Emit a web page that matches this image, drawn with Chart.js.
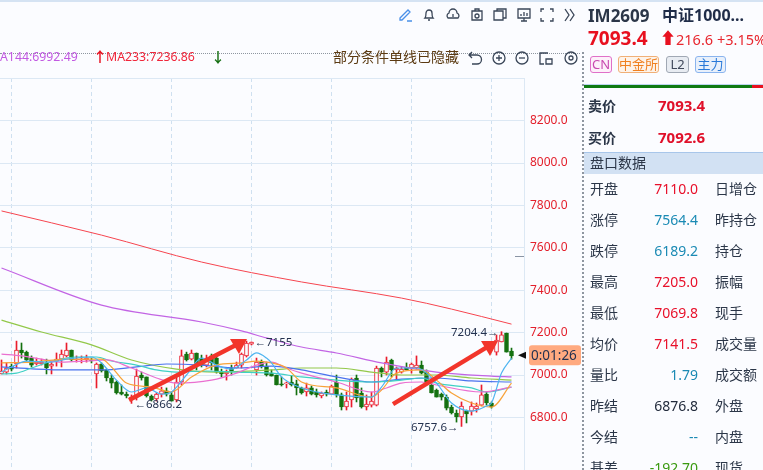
<!DOCTYPE html>
<html><head><meta charset="utf-8">
<script src="https://cdn.jsdelivr.net/npm/chart.js@4"></script>
<style>
html,body{margin:0;padding:0;background:#fbfcff;overflow:hidden}
#w{position:relative;width:763px;height:470px;overflow:hidden;font-family:"Noto Sans","Noto Sans CJK SC",sans-serif;background:#fbfcff}
#w canvas{position:absolute;left:0;top:0}
.t{position:absolute;white-space:nowrap;line-height:1}
.b{position:absolute;top:56px;height:17px;line-height:15px;box-sizing:border-box;border:1px solid;border-radius:3px;text-align:center;font-size:13px}
svg.i{position:absolute;fill:none;stroke:#3a4658;stroke-width:1.3}
</style></head><body><div id="w"><canvas id="c" width="763" height="470"></canvas></div>
<script>
const opens=[7005,7014,7042,7052,7118,7108,7080,7052,7052,7057,7042,7066,7075,7090,7118,7071,7071,7071,7071,7005,7052,7024,6986,6967,6920,6910,6887,6896,7000,6991,6901,6887,6910,6925,6906,6882,6967,7099,7075,7104,7080,7047,7090,7080,7014,7005,7033,7033,7047,7090,7146,7024,7061,7042,7009,7000,6958,6958,6967,6958,6939,6920,6939,6920,6901,6920,6910,6967,6906,6849,6882,6986,6915,6849,6858,6858,7033,7014,7071,7024,7014,7038,7033,7033,7047,7014,6953,6929,6910,6896,6849,6821,6802,6830,6830,6840,6858,6910,6868,7108,7156,7198,7113];
const highs=[7071,7057,7052,7160,7151,7113,7090,7080,7075,7075,7061,7104,7118,7151,7118,7090,7090,7094,7080,7057,7057,7028,7000,6972,6953,6920,6906,7028,7014,6991,6906,6915,6943,6939,6920,6991,7118,7108,7118,7104,7094,7094,7099,7090,7028,7024,7047,7061,7104,7160,7156,7080,7071,7061,7024,7000,6991,6967,6995,6976,6943,6962,6948,6934,6920,6929,6953,7000,6915,6920,6986,7000,6939,6906,6920,7042,7038,7085,7075,7038,7038,7057,7057,7090,7066,7024,6962,6934,6915,6906,6858,6835,6873,6835,6873,6868,6953,6920,6873,7189,7204.4,7198,7127];
const lows=[7005,7005,7019,7033,7080,7066,7038,7047,7047,7005,7005,7042,7038,7085,7066,7061,7057,7061,7057,6939,7014,6972,6939,6910,6906,6892,6866.2,6882,6976,6896,6877,6877,6896,6901,6877,6873,6953,7066,7071,7024,7038,7038,7024,7009,6991,6976,7000,7033,7033,7085,7142,7000,7033,6995,6995,6953,6948,6939,6948,6906,6910,6901,6906,6896,6892,6901,6910,6896,6835,6835,6849,6873,6844,6835,6849,6854,6991,7000,6991,6981,7009,7024,7009,7028,7005,6953,6915,6896,6882,6835,6816,6778,6757.6,6774,6811,6825,6854,6858,6844,7094,7156,7108,7075];
const closes=[7019,7033,7028,7118,7104,7071,7047,7061,7061,7033,7052,7075,7099,7118,7071,7075,7075,7080,7066,7052,7019,6986,6962,6915,6910,6901,6896,6995,6986,6901,6882,6910,6925,6910,6877,6967,7090,7071,7104,7047,7047,7080,7057,7014,7005,7014,7019,7047,7099,7151,7155,7061,7042,7000,6995,6953,6953,6962,6953,6939,6915,6939,6910,6906,6915,6910,6948,6906,6849,6877,6981,6892,6849,6863,6877,7033,7014,7061,7024,7033,7028,7024,7052,7047,7009,6962,6915,6896,6896,6844,6821,6802,6854,6816,6854,6854,6906,6868,6849,7165,7189,7108,7090];

const maSky=[[0,7014],[2,7038],[5,7066],[10,7061],[13,7075],[18,7085],[20,7057],[23,6976],[26,6920],[29,6939],[32,6910],[34,6920],[37,7000],[40,7080],[43,7047],[46,7028],[49,7071],[51,7104],[53,7080],[54,7057],[56,6991],[60,6939],[67,6906],[74,6896],[76,6943],[79,7033],[83,7033],[87,6962],[90,6868],[94,6830],[97,6854],[98,6868],[100,7009],[102,7080]];
const maOrange=[[0,7057],[6,7061],[13,7075],[20,7075],[22,7038],[25,6962],[30,6943],[34,6920],[38,6991],[43,7047],[48,7057],[51,7066],[54,7057],[57,7033],[60,6967],[67,6939],[74,6896],[76,6929],[79,7009],[84,7024],[87,6976],[90,6915],[94,6868],[98,6849],[102,6962]];
const maPink=[[0,7099],[4,7090],[8,7075],[12,7061],[17,7066],[21,7071],[26,7033],[31,6986],[35,6962],[42,6976],[47,7009],[51,7047],[54,7061],[57,7033],[60,7009],[67,6967],[74,6920],[77,6939],[80,6962],[84,6967],[87,6953],[96,6920],[102,6943]];
const maTeal=[[0,7005],[3,7009],[6,7033],[11,7071],[15,7085],[19,7085],[22,7066],[27,7047],[31,7024],[35,7014],[41,7019],[47,7014],[54,7009],[60,6991],[67,6976],[74,6967],[80,6976],[84,6986],[87,6962],[94,6939],[97,6920],[102,6943]];
const maBlue=[[0,7038],[7,7028],[13,7024],[20,7024],[27,7038],[33,7052],[40,7047],[47,7033],[54,7042],[60,7024],[67,6991],[74,6967],[80,6981],[87,6986],[94,6972],[102,6967]];
const maGreen=[[0,7259],[8,7203],[18,7142],[26,7071],[35,7028],[43,7014],[54,7024],[60,7033],[67,7033],[74,7014],[80,7000],[87,7000],[94,6986],[102,6976]];
const ma144=[[0,7505],[20,7330],[40,7250],[48,7208],[53,7175],[60,7132],[67,7104],[76,7057],[87,7014],[98,6995],[102,6991]];
const ma233=[[0,7774],[20,7660],[40,7533],[60,7439],[80,7363],[90,7311],[102,7240]];
const yTicks=[6800,7000,7200,7400,7600,7800,8000,8200,8400];
const gridIdx=[2,18,34,50,66,82,98];
const arrows=[[25.5,6882,49.1,7170],[78.3,6863,99.3,7160]];
const peakLabels=[{i:26,v:6866.2,t:'←6866.2',a:'left'},{i:50,v:7155,t:'←7155',a:'left'},{i:100,v:7204.4,t:'7204.4→',a:'right'},{i:92,v:6757.6,t:'6757.6→',a:'right'}];
const lastPrice=7093.4, countdown='0:01:26';

const RED='#ea1c2c',GRN='#13700f';
const pts=a=>a.map(p=>({x:p[0],y:p[1]}));
const idx=opens.map((_,i)=>i);
const up=idx.map(i=>closes[i]>=opens[i]);
const line=(d,c,w)=>({type:'line',data:pts(d),borderColor:c,borderWidth:w||1.2,pointRadius:0,cubicInterpolationMode:'monotone',order:0});
const plug={id:'ann',afterDatasetsDraw(ch){
 const g=ch.ctx,x=ch.scales.x,y=ch.scales.y;
 g.save();
 arrows.forEach(a=>{
  const x0=x.getPixelForValue(a[0]),y0=y.getPixelForValue(a[1]),x1=x.getPixelForValue(a[2]),y1=y.getPixelForValue(a[3]);
  g.strokeStyle=g.fillStyle='#f2352b';g.lineWidth=4.5;
  g.beginPath();g.moveTo(x0,y0);g.lineTo(x1-11,y1+6);g.stroke();
  g.beginPath();g.moveTo(x1,y1);g.lineTo(x1-17,y1);g.lineTo(x1-8,y1+15);g.closePath();g.fill();
 });
 g.fillStyle='#25324f';g.font='11.5px "Noto Sans",sans-serif';g.textBaseline='middle';
 peakLabels.forEach(l=>{g.textAlign=l.a;const px=x.getPixelForValue(l.i);
  g.fillText(l.t,px+(l.a==='left'?3:-3),y.getPixelForValue(l.v)+1);});
 const py=y.getPixelForValue(lastPrice);
 g.fillStyle='#ffaa80';g.beginPath();g.roundRect(529,py-10,52,20,3);g.fill();
 g.fillStyle='#25324f';g.textAlign='left';g.font='13.5px "Noto Sans",sans-serif';g.fillText(countdown,531,py+.5);
 g.fillStyle='#111';g.beginPath();g.moveTo(518,py);g.lineTo(526,py-3.5);g.lineTo(526,py+3.5);g.closePath();g.fill();
 g.strokeStyle='#8a94a4';g.lineWidth=1;g.beginPath();g.moveTo(515,256.5);g.lineTo(524,256.5);g.stroke();
 g.restore();
}};
new Chart(document.getElementById('c'),{
 data:{datasets:[
  line(maSky,'#4db4f0'),line(maOrange,'#f7a33a'),line(maPink,'#ea6fd0'),line(maTeal,'#3fd0c4'),
  line(maBlue,'#4a72ee'),line(maGreen,'#93c84a'),line(ma144,'#c264e4'),line(ma233,'#f6454f',1),
  {type:'bar',grouped:false,barThickness:4,order:1,borderSkipped:false,borderWidth:1,minBarLength:1,
   data:idx.map(i=>({x:i,y:[opens[i],closes[i]]})),
   backgroundColor:idx.map(i=>up[i]?'#fbfcff':GRN),borderColor:idx.map(i=>up[i]?RED:GRN)},
  {type:'bar',grouped:false,barThickness:1,order:2,borderWidth:0,
   data:idx.map(i=>({x:i,y:[lows[i],highs[i]]})),
   backgroundColor:idx.map(i=>up[i]?RED:GRN)}
 ]},
 options:{responsive:false,animation:false,devicePixelRatio:1,
  layout:{autoPadding:false,padding:{top:78,left:0,right:0,bottom:0}},
  plugins:{legend:{display:false},tooltip:{enabled:false}},
  scales:{
   x:{type:'linear',min:-0.3,max:104.5,offset:false,
      grid:{offset:false,color:'#cfe0f0',drawTicks:false},
      border:{display:false,dash:[4,3]},ticks:{display:false},
      afterFit:s=>{s.height=0;},
      afterBuildTicks:s=>{s.ticks=gridIdx.map(v=>({value:v}));}},
   y:{type:'linear',position:'right',min:6552,max:8401,
      grid:{color:'#dce8f4',drawTicks:false},
      border:{color:'#dce8f4'},
      afterBuildTicks:s=>{s.ticks=yTicks.map(v=>({value:v}));},
      afterFit:s=>{s.width=239;s.paddingTop=0;s.paddingBottom=0;},
      ticks:{color:'#e3202c',padding:6,font:{size:12,family:'"Noto Sans",sans-serif'},
        callback:v=>v===8400?'':v.toFixed(1)}}
  }},
 plugins:[plug]
});

const w=document.getElementById('w');
function T(s,x,y,size,color,extra){const d=document.createElement('div');d.className='t';d.textContent=s;
 d.style.cssText=`left:${x}px;top:${y}px;font-size:${size}px;color:${color};`+(extra||'');w.appendChild(d);return d;}
function R(x,y,wd,h,bg,extra){const d=document.createElement('div');d.style.cssText=`position:absolute;left:${x}px;top:${y}px;width:${wd}px;height:${h}px;background:${bg};`+(extra||'');w.appendChild(d);}
function S(x,y,body,st){const d=document.createElementNS('http://www.w3.org/2000/svg','svg');d.setAttribute('class','i');d.setAttribute('width',18);d.setAttribute('height',18);d.setAttribute('viewBox','0 0 18 18');d.style.left=x+'px';d.style.top=y+'px';if(st)d.style.stroke=st;d.innerHTML=body;w.appendChild(d);}

R(0,0,763,2,'#d5e3f3');
R(0,53,580,0,'transparent','border-top:1px dotted #8e96a0');
R(582,52,0,418,'transparent','border-left:2px dotted #8e96a0');

/* toolbar */
const topRow=[['<path d="M4 12 12 4l2 2-8 8H4zM11 15h5"/>',396,'#4a90e8'],['<path d="M5 12c1-1 1-3 1-5a3 3 0 0 1 6 0c0 2 0 4 1 5zM8 14h2"/>',420],['<path d="M4 12a3 3 0 0 1 1-5 4 4 0 0 1 8 0 3 3 0 0 1 1 5zM9 8v3"/>',444],['<path d="M4 5h10v9H4zM7 5V3h4v2"/><circle cx="9" cy="10" r="2"/>',468],['<path d="M3 5h9v9H3zM6 5V3h9v9h-3"/>',491],['<path d="M3 3h12v9H3zM6 15h6M9 12v3M6 10V8M9 10V6M12 10V7"/>',515],['<path d="M3 6V3h3M12 3h3v3M3 12v3h3M15 12v3h-3"/>',538],['<path d="M4 3l4 6-4 6M9 3l4 6-4 6"/>',561]];
topRow.forEach(r=>S(r[1],6,r[0],r[2]));
const row2=[['<path d="M6 3 3 6l3 3M3 6h8a3 3 0 0 1 0 9H6"/>',466],['<circle cx="9" cy="9" r="6"/><path d="M6 9h6M9 6v6"/>',490],['<circle cx="9" cy="9" r="6"/><path d="M6 9h6"/>',513],['<path d="M11 4H3v11h4M9 10h6v5H9z"/>',537],['<circle cx="9" cy="9" r="6"/><circle cx="9" cy="9" r="2"/>',562]];
row2.forEach(r=>S(r[1],49,r[0]));

T('A144:6992.49',0,51,12.3,'#c25ae2');
T('↑',93,50,14,'#e8101f','font-weight:700');
T('MA233:7236.86',106,51,12.3,'#f0263a');
T('↓',211,50,14,'#176f13','font-weight:700');
T('部分条件单线已隐藏',333,50,14,'#5b3a12');

/* side panel */
const pTitle=['IM2609','中证1000...'];
T(pTitle[0],588,7,17,'#2b3648','font-weight:700');
T(pTitle[1],662,7,16,'#1f2c48','font-weight:700');
T('7093.4',588,29,19,'#e8101f','font-weight:700');
T('⬆',660,30,16,'#e8101f');
T('216.6',676,32,14.5,'#e8272f');
T('+3.15%',717,32,14.5,'#e8272f');
[['CN',590,22,'#e070c8','#c84ab0','#fdf0fa'],['中金所',618,41,'#f0b078','#f08020','#fdf3ea'],['L2',666,23,'#a0a8b4','#40485a','#e8ecf2'],['主力',695,31,'#8ab4ee','#2878d8','#e8f0fb']].forEach(b=>{
 const d=document.createElement('div');d.className='b';d.textContent=b[0];
 d.style.cssText=`left:${b[1]}px;width:${b[2]}px;border-color:${b[3]};color:${b[4]};background:${b[5]}`;w.appendChild(d);});
R(584,84,179,1,'#bcd4f0');
R(584,85,168,3,'#0f7a12');R(752,85,11,3,'#e8101f');
T('卖价',588,99,14,'#2b3648','font-weight:700');T('7093.4',658,98,15,'#e0102a','font-weight:700');
T('买价',588,131,14,'#2b3648','font-weight:700');T('7092.6',658,130,15,'#e0102a','font-weight:700');
R(584,152,179,22,'#d2e1f3','border-top:1px solid #a8c6ea;box-sizing:border-box');
T('盘口数据',590,156,14,'#2b3648');
const leftLabels=['开盘','涨停','跌停','最高','最低','均价','量比','昨结','今结','基差'];
const leftValues=['7110.0','7564.4','6189.2','7205.0','7069.8','7141.5','1.79','6876.8','--','-192.70'];
const leftColors=['#e8102a','#1a8ab4','#1a8ab4','#e8102a','#e8102a','#e8102a','#1a8ab4','#222b3c','#1a8ab4','#3a9a10'];
const rightLabels=['日增仓','昨持仓','持仓','振幅','现手','成交量','成交额','外盘','内盘','现货'];
leftLabels.forEach((s,i)=>{const y=182+i*31;
 T(s,590,y,14,'#2b3648');
 const v=T(leftValues[i],0,y,14,leftColors[i]);v.style.left='auto';v.style.right=(763-698)+'px';
 T(rightLabels[i],715,y,14,'#2b3648');});
</script></body></html>
